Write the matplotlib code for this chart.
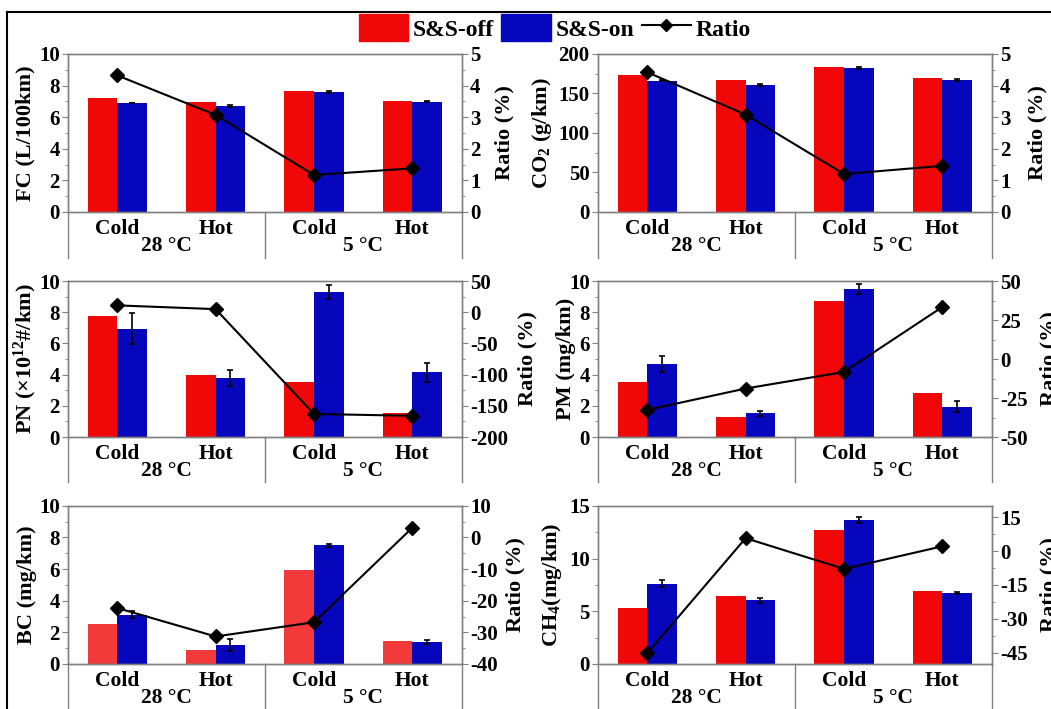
import matplotlib
matplotlib.use("Agg")
import matplotlib.pyplot as plt
from matplotlib.lines import Line2D
from matplotlib.patches import Patch
from matplotlib.ticker import AutoMinorLocator

plt.rcParams["font.family"] = ["Liberation Serif", "DejaVu Serif"]
plt.rcParams["font.weight"] = "bold"
plt.rcParams["axes.labelweight"] = "bold"
plt.rcParams["axes.unicode_minus"] = False
plt.rcParams["mathtext.fontset"] = "custom"
plt.rcParams["mathtext.rm"] = "Liberation Serif:bold"
plt.rcParams["mathtext.it"] = "Liberation Serif:italic:bold"
plt.rcParams["mathtext.bf"] = "Liberation Serif:bold"

# categorias (ciclo) y grupos (temperatura)
conditions = ["Cold", "Hot", "Cold", "Hot"]
groups = ["28 \u00b0C", "5 \u00b0C"]

# FC
fc_off = [7.23, 6.94, 7.68, 7.03]
fc_on = [6.88, 6.70, 7.60, 6.96]
fc_err = [0.0, 0.05, 0.05, 0.03]
fc_ratio = [4.32, 3.07, 1.17, 1.38]

# CO2
co2_off = [173, 166.5, 184, 169.5]
co2_on = [166, 161, 182, 167]
co2_err = [0.5, 1.2, 1.5, 0.8]
co2_ratio = [4.42, 3.08, 1.2, 1.46]

# PN
pn_off = [7.78, 4.0, 3.55, 1.55]
pn_on = [6.95, 3.8, 9.3, 4.15]
pn_err = [1.0, 0.5, 0.45, 0.6]
pn_ratio = [11, 5, -163, -166]

# PM
pm_off = [3.55, 1.28, 8.72, 2.85]
pm_on = [4.7, 1.53, 9.49, 1.94]
pm_err = [0.5, 0.15, 0.3, 0.35]
pm_ratio = [-32.6, -18.9, -8.3, 33.4]

# BC
bc_off = [2.54, 0.89, 5.93, 1.44]
bc_on = [3.12, 1.19, 7.5, 1.38]
bc_err = [0.2, 0.4, 0.08, 0.12]
bc_ratio = [-22.3, -31.3, -26.8, 3.1]

# CH4
ch4_off = [5.28, 6.49, 12.69, 6.9]
ch4_on = [7.63, 6.04, 13.64, 6.71]
ch4_err = [0.3, 0.25, 0.3, 0.08]
ch4_ratio = [-45.3, 5.7, -7.9, 2.1]

RED = "#f00808"
BLUE = "#0606bc"
GREY = "#808080"
x = [1, 2, 3, 4]
w = 0.3


def draw_panel(ax, off, on, err, ratio, ylabel, ylim, yticks, rlim, rticks,
               lab_x=(-0.11, 1.11), red=RED):
    ax.bar([i - w / 2 for i in x], off, w, color=red, zorder=2)
    ax.bar([i + w / 2 for i in x], on, w, color=BLUE, zorder=2)
    ax.errorbar([i + w / 2 for i in x], on, yerr=err, fmt="none", ecolor="black",
                elinewidth=1.2, capsize=2.5, capthick=1.2, zorder=3)
    ax.set_xlim(0.5, 4.5)
    ax.set_ylim(*ylim)
    ax.set_yticks(yticks)
    ax.yaxis.set_minor_locator(AutoMinorLocator(2))
    ax.set_ylabel(ylabel, fontsize=16)
    ax.yaxis.set_label_coords(lab_x[0], 0.5)
    ax.yaxis.label.set_va("center")
    ax.set_xticks(x)
    ax.set_xticklabels([])
    ax.tick_params(axis="x", direction="in", length=3, color=GREY)
    ax.tick_params(axis="y", which="major", direction="out", length=4, color=GREY,
                   labelsize=15, pad=2)
    ax.tick_params(axis="y", which="minor", direction="out", length=2.5, color=GREY)
    for s in ax.spines.values():
        s.set_color(GREY)
        s.set_linewidth(1)

    ax2 = ax.twinx()
    ax2.plot(x, ratio, color="black", lw=1.5, marker="D", ms=7, zorder=4)
    ax2.set_ylim(*rlim)
    ax2.set_yticks(rticks)
    ax2.yaxis.set_minor_locator(AutoMinorLocator(2))
    ax2.set_ylabel("Ratio (%)", fontsize=16)
    ax2.yaxis.set_label_coords(lab_x[1], 0.5)
    ax2.yaxis.label.set_va("center")
    ax2.tick_params(axis="y", which="major", direction="out", length=4, color=GREY,
                    labelsize=15, pad=2)
    ax2.tick_params(axis="y", which="minor", direction="out", length=2.5, color=GREY)
    for s in ax2.spines.values():
        s.set_color(GREY)
        s.set_linewidth(1)

    # eje x de dos niveles, estilo Origin
    tr = ax.get_xaxis_transform()
    for xs in [0.5, 2.5, 4.5]:
        ax.plot([xs, xs], [0, -0.29], color=GREY, lw=1, transform=tr, clip_on=False)
    for i, c in zip(x, conditions):
        ax.text(i, -0.11, c, transform=tr, ha="center", va="center", fontsize=15.5)
    for gx, g in zip([1.5, 3.5], groups):
        ax.text(gx, -0.215, g, transform=tr, ha="center", va="center", fontsize=15.5)


fig = plt.figure(figsize=(10.51, 7.09), dpi=100)

cols = [0.0647, 0.569]
rows = [(0.701, 0.223), (0.3836, 0.220), (0.0635, 0.223)]
W = 0.3745

ax = fig.add_axes([cols[0], rows[0][0], W, rows[0][1]])
draw_panel(ax, fc_off, fc_on, fc_err, fc_ratio, "FC (L/100km)",
           (0, 10), [0, 2, 4, 6, 8, 10], (0, 5), [0, 1, 2, 3, 4, 5],
           lab_x=(-0.109, 1.109))
ax = fig.add_axes([cols[1], rows[0][0], W, rows[0][1]])
draw_panel(ax, co2_off, co2_on, co2_err, co2_ratio, "CO$_2$ (g/km)",
           (0, 200), [0, 50, 100, 150, 200], (0, 5), [0, 1, 2, 3, 4, 5],
           lab_x=(-0.142, 1.117))
ax = fig.add_axes([cols[0], rows[1][0], W, rows[1][1]])
draw_panel(ax, pn_off, pn_on, pn_err, pn_ratio, "PN (\u00d710$^{12}$#/km)",
           (0, 10), [0, 2, 4, 6, 8, 10], (-200, 50), [-200, -150, -100, -50, 0, 50],
           lab_x=(-0.109, 1.168))
ax = fig.add_axes([cols[1], rows[1][0], W, rows[1][1]])
draw_panel(ax, pm_off, pm_on, pm_err, pm_ratio, "PM (mg/km)",
           (0, 10), [0, 2, 4, 6, 8, 10], (-50, 50), [-50, -25, 0, 25, 50],
           lab_x=(-0.081, 1.147))
ax = fig.add_axes([cols[0], rows[2][0], W, rows[2][1]])
draw_panel(ax, bc_off, bc_on, bc_err, bc_ratio, "BC (mg/km)",
           (0, 10), [0, 2, 4, 6, 8, 10], (-40, 10), [-40, -30, -20, -10, 0, 10],
           lab_x=(-0.104, 1.138), red="#f23a3a")
ax = fig.add_axes([cols[1], rows[2][0], W, rows[2][1]])
draw_panel(ax, ch4_off, ch4_on, ch4_err, ch4_ratio, "CH$_4$(mg/km)",
           (0, 15), [0, 5, 10, 15], (-50, 20), [-45, -30, -15, 0, 15],
           lab_x=(-0.117, 1.147))

handles = [Patch(color=RED), Patch(color=BLUE),
           Line2D([], [], color="black", lw=1.5, marker="D", ms=6)]
fig.legend(handles, ["S&S-off", "S&S-on", "Ratio"], loc="center",
           bbox_to_anchor=(0.528, 0.961), ncol=3, frameon=False, fontsize=17,
           handlelength=2.1, handleheight=1.35, handletextpad=0.2, columnspacing=0.3,
           borderpad=0.1)

# marco recortado de la figura original
fig.add_artist(Line2D([0.0067, 1.0], [0.983, 0.983], color="black", lw=1.5))
fig.add_artist(Line2D([0.0067, 0.0067], [0.0, 0.983], color="black", lw=1.5))

plt.savefig("out.png", dpi=100)
